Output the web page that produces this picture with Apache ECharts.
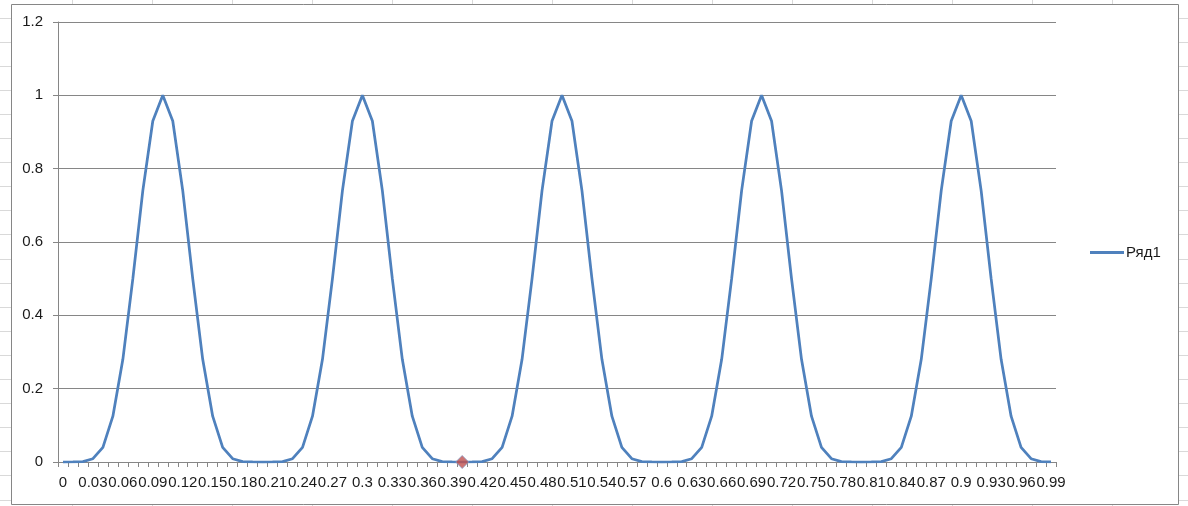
<!DOCTYPE html>
<html>
<head>
<meta charset="utf-8">
<script src="https://cdn.jsdelivr.net/npm/echarts@6/dist/echarts.min.js"></script>
<style>
html,body{margin:0;padding:0;background:#fff;}
#chart{width:1188px;height:506px;}
</style>
</head>
<body>
<div id="chart"></div>
<script>
const categories = [
"0","0.01","0.02","0.03","0.04","0.05","0.06","0.07","0.08","0.09",
"0.1","0.11","0.12","0.13","0.14","0.15","0.16","0.17","0.18","0.19",
"0.2","0.21","0.22","0.23","0.24","0.25","0.26","0.27","0.28","0.29",
"0.3","0.31","0.32","0.33","0.34","0.35","0.36","0.37","0.38","0.39",
"0.4","0.41","0.42","0.43","0.44","0.45","0.46","0.47","0.48","0.49",
"0.5","0.51","0.52","0.53","0.54","0.55","0.56","0.57","0.58","0.59",
"0.6","0.61","0.62","0.63","0.64","0.65","0.66","0.67","0.68","0.69",
"0.7","0.71","0.72","0.73","0.74","0.75","0.76","0.77","0.78","0.79",
"0.8","0.81","0.82","0.83","0.84","0.85","0.86","0.87","0.88","0.89",
"0.9","0.91","0.92","0.93","0.94","0.95","0.96","0.97","0.98","0.99"
];
const seriesName = "Ряд1";
const values = [
0, 0.00001, 0.001, 0.009, 0.04, 0.125, 0.28, 0.5, 0.74, 0.93, 1, 0.93, 0.74, 0.5, 0.28, 0.125, 0.04, 0.009, 0.001, 0.00001,
0, 0.00001, 0.001, 0.009, 0.04, 0.125, 0.28, 0.5, 0.74, 0.93, 1, 0.93, 0.74, 0.5, 0.28, 0.125, 0.04, 0.009, 0.001, 0.00001,
0, 0.00001, 0.001, 0.009, 0.04, 0.125, 0.28, 0.5, 0.74, 0.93, 1, 0.93, 0.74, 0.5, 0.28, 0.125, 0.04, 0.009, 0.001, 0.00001,
0, 0.00001, 0.001, 0.009, 0.04, 0.125, 0.28, 0.5, 0.74, 0.93, 1, 0.93, 0.74, 0.5, 0.28, 0.125, 0.04, 0.009, 0.001, 0.00001,
0, 0.00001, 0.001, 0.009, 0.04, 0.125, 0.28, 0.5, 0.74, 0.93, 1, 0.93, 0.74, 0.5, 0.28, 0.125, 0.04, 0.009, 0.001, 0.00001
];
const highlightPoint = ["0.4", 0];
const yMin = 0, yMax = 1.2, yInterval = 0.2;

// decorative spreadsheet cell grid around the chart object
const sheetLines = [];
const gridColor = '#d9d9d9';
for (let x = -8; x <= 1188; x += 80) {
  sheetLines.push({type:'line', silent:true, z:-10, shape:{x1:x+0.5,y1:0,x2:x+0.5,y2:4}, style:{stroke:gridColor,lineWidth:1}});
  sheetLines.push({type:'line', silent:true, z:-10, shape:{x1:x+0.5,y1:505,x2:x+0.5,y2:506}, style:{stroke:gridColor,lineWidth:1}});
}
for (let y = 17.5; y <= 506; y += 24.1) {
  const yy = Math.round(y) + 0.5;
  sheetLines.push({type:'line', silent:true, z:-10, shape:{x1:0,y1:yy,x2:11,y2:yy}, style:{stroke:gridColor,lineWidth:1}});
  sheetLines.push({type:'line', silent:true, z:-10, shape:{x1:1179,y1:yy,x2:1188,y2:yy}, style:{stroke:gridColor,lineWidth:1}});
}
sheetLines.push({type:'rect', silent:true, z:-5, shape:{x:11.5,y:4.5,width:1167,height:500}, style:{fill:'#fff',stroke:'#868686',lineWidth:1}});

const font = 'Liberation Sans, Arial, sans-serif';
const chart = echarts.init(document.getElementById('chart'), null, {renderer:'canvas'});
chart.setOption({
  animation:false,
  backgroundColor:'#fff',
  textStyle:{fontFamily:font},
  graphic: sheetLines,
  grid:{left:58, right:132, top:22, bottom:44, containLabel:false},
  legend:{
    data:[seriesName], orient:'vertical', left:1090, top:245, padding:0,
    icon:'rect', itemWidth:34, itemHeight:3, itemGap:4,
    textStyle:{fontFamily:font, fontSize:15, color:'#1a1a1a', padding:[0,0,0,-3]}
  },
  xAxis:{
    type:'category', data:categories, boundaryGap:true,
    axisLine:{lineStyle:{color:'#868686', width:1}},
    axisTick:{show:true, interval:0, length:5, alignWithLabel:false, lineStyle:{color:'#868686'}},
    axisLabel:{interval:2, margin:13, fontSize:15, color:'#1a1a1a', fontFamily:font, hideOverlap:false},
    splitLine:{show:false}
  },
  yAxis:{
    type:'value', min:yMin, max:yMax, interval:yInterval,
    axisLine:{show:true, lineStyle:{color:'#868686', width:1}},
    axisTick:{show:true, length:5, lineStyle:{color:'#868686'}},
    axisLabel:{margin:15, fontSize:15, color:'#1a1a1a', fontFamily:font,
      formatter:function(v){return String(Math.round(v*10)/10);}},
    splitLine:{show:true, lineStyle:{color:'#868686', width:1}}
  },
  series:[
    {
      name:seriesName, type:'line', data:values,
      showSymbol:false, symbol:'none',
      lineStyle:{color:'#4F81BD', width:2.75},
      itemStyle:{color:'#4F81BD'},
      z:2
    },
    {
      name:'marker', type:'scatter', data:[highlightPoint],
      symbol:'diamond', symbolSize:13,
      itemStyle:{color:'#C0504D', borderColor:'#8a9cc4', borderWidth:1},
      z:3
    }
  ]
});
</script>
</body>
</html>
